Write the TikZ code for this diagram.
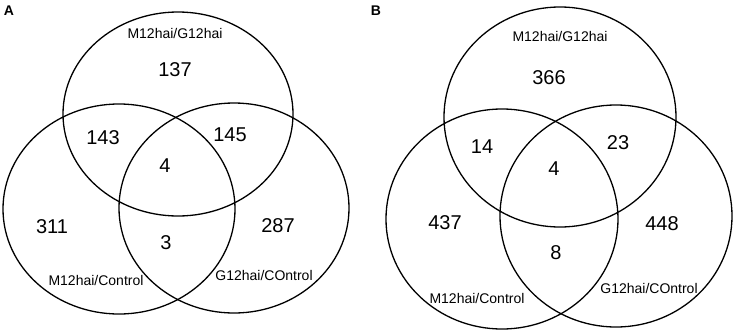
\documentclass[tikz,border=0pt]{standalone}
\usepackage{fontspec}
\setmainfont{Liberation Sans}
\begin{document}
\begin{tikzpicture}[x=1pt, y=-1pt,
  set/.style={line width=1.3pt},
  num/.style={font=\fontsize{20}{20}\selectfont},
  lab/.style={font=\fontsize{14}{14}\selectfont},
  panel/.style={font=\bfseries\fontsize{14}{14}\selectfont}
]
\useasboundingbox (0,0) rectangle (737,335);
% panel A
\node[panel] (pA) at (9,11) {A};
\draw[set] (178,114) ellipse [x radius=115pt, y radius=102pt];
\draw[set] (119,209) ellipse [x radius=116pt, y radius=105pt];
\draw[set] (234,208) ellipse [x radius=115pt, y radius=105pt];
\node[lab] (a-top) at (175,33) {M12hai/G12hai};
\node[lab] (a-left) at (96,280) {M12hai/Control};
\node[lab] (a-right) at (264,275) {G12hai/COntrol};
\node[num] (a1) at (175,70) {137};
\node[num] (a2) at (103,138) {143};
\node[num] (a3) at (230,135) {145};
\node[num] (a4) at (165,166) {4};
\node[num] (a5) at (52,227) {311};
\node[num] (a6) at (166,243) {3};
\node[num] (a7) at (278,226) {287};
% panel B
\node[panel] (pB) at (376,11) {B};
\draw[set] (560,117) ellipse [x radius=116pt, y radius=110pt];
\draw[set] (502,219) ellipse [x radius=116pt, y radius=110pt];
\draw[set] (616,216) ellipse [x radius=116pt, y radius=111pt];
\node[lab] (b-top) at (560,36) {M12hai/G12hai};
\node[lab] (b-left) at (477,298) {M12hai/Control};
\node[lab] (b-right) at (649,288) {G12hai/COntrol};
\node[num] (b1) at (549,78) {366};
\node[num] (b2) at (482,147) {14};
\node[num] (b3) at (618,143) {23};
\node[num] (b4) at (554,169) {4};
\node[num] (b5) at (445,223) {437};
\node[num] (b6) at (556,253) {8};
\node[num] (b7) at (662,224) {448};
\end{tikzpicture}
\end{document}
